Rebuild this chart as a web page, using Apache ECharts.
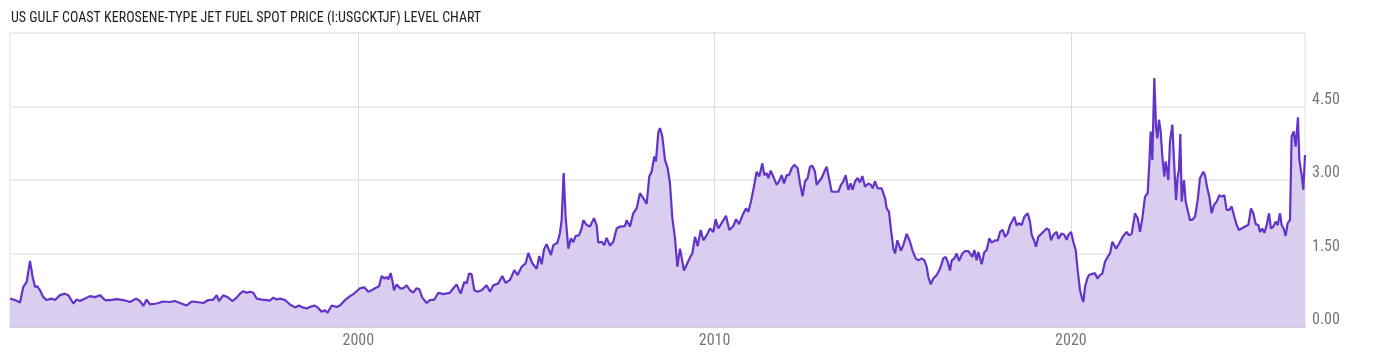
<!DOCTYPE html>
<html>
<head>
<meta charset="utf-8">
<script src="https://cdn.jsdelivr.net/npm/echarts@6/dist/echarts.min.js"></script>
<style>
html,body{margin:0;padding:0;background:#fff;}
#chart{width:1400px;height:357px;}
</style>
</head>
<body>
<div id="chart"></div>
<script>
const titleText = 'US GULF COAST KEROSENE-TYPE JET FUEL SPOT PRICE (I:USGCKTJF) LEVEL CHART';
const xTickYears = [2000, 2010, 2020];
const yTicks = [0, 1.5, 3, 4.5];

// decimal year of each reading
const years = [
1990.225,1990.365,1990.506,1990.599,1990.693,1990.786,1990.861,1990.927,1990.992,1991.067,1991.160,1991.254,1991.394,1991.488,1991.628,1991.768,1991.862,1992.002,1992.096,1992.189,1992.330,1992.470,1992.610,1992.751,1992.891,1993.031,1993.218,1993.406,1993.593,1993.761,1993.873,1993.967,1994.060,1994.154,1994.341,1994.528,1994.715,1994.855,1994.996,1995.183,1995.323,1995.464,1995.651,1995.791,1995.931,1996.025,1996.090,1996.212,
1996.259,1996.353,1996.465,1996.586,1996.680,1996.773,1996.867,1996.961,1997.054,1997.148,1997.288,1997.428,1997.522,1997.615,1997.709,1997.803,1997.943,1998.083,1998.223,1998.336,1998.429,1998.551,1998.644,1998.766,1998.860,1998.972,1999.065,1999.140,1999.252,1999.393,1999.486,1999.627,1999.767,1999.861,1999.954,2000.048,2000.169,2000.282,2000.375,2000.469,2000.581,2000.656,2000.730,2000.796,2000.843,2000.908,2000.964,2001.002,2001.077,2001.170,2001.264,2001.357,2001.451,2001.544,2001.638,2001.713,2001.797,2001.919,2002.012,2002.134,2002.246,2002.386,
2002.433,2002.573,2002.667,2002.760,2002.873,2002.976,2003.041,2003.107,2003.181,2003.256,2003.350,2003.462,2003.602,2003.696,2003.789,2003.930,2004.042,2004.136,2004.257,2004.379,2004.472,2004.585,2004.697,2004.772,2004.884,2005.006,2005.080,2005.146,2005.211,2005.286,2005.408,2005.473,2005.586,2005.660,2005.707,2005.763,2005.819,2005.894,2005.969,2006.035,2006.100,2006.194,2006.268,2006.315,2006.409,2006.502,2006.615,2006.689,2006.736,2006.830,2006.905,2006.970,2007.064,2007.157,2007.251,2007.344,2007.484,2007.531,2007.625,2007.718,2007.812,2007.905,2007.999,2008.093,2008.167,2008.233,2008.308,2008.354,2008.420,2008.467,2008.532,
2008.608,2008.683,2008.748,2008.814,2008.889,2008.954,2009.029,2009.141,2009.235,2009.310,2009.375,2009.450,2009.525,2009.609,2009.684,2009.777,2009.871,2009.964,2010.030,2010.105,2010.198,2010.320,2010.413,2010.526,2010.601,2010.685,2010.788,2010.881,2010.947,2011.021,2011.087,2011.180,2011.255,2011.340,2011.396,2011.461,2011.508,2011.574,2011.648,2011.742,2011.807,2011.882,2011.948,2012.022,2012.088,2012.163,2012.238,2012.331,2012.397,2012.471,2012.537,2012.612,2012.677,2012.743,2012.818,2012.864,2012.930,2013.005,2013.079,2013.145,2013.210,2013.285,2013.379,2013.472,2013.547,2013.613,2013.678,2013.753,2013.819,2013.875,2013.940,2014.015,2014.080,2014.146,2014.221,2014.314,2014.389,2014.436,2014.501,2014.576,2014.688,
2014.783,2014.830,2014.895,2014.951,2015.017,2015.064,2015.129,2015.185,2015.232,2015.297,2015.391,2015.485,2015.550,2015.644,2015.718,2015.812,2015.887,2015.952,2015.999,2016.065,2016.139,2016.233,2016.327,2016.420,2016.486,2016.542,2016.607,2016.654,2016.729,2016.794,2016.860,2016.953,2017.028,2017.122,2017.168,2017.234,2017.290,2017.355,2017.402,2017.496,2017.571,2017.636,2017.711,2017.776,2017.870,2017.945,2018.010,2018.085,2018.151,2018.225,2018.291,2018.366,2018.413,2018.478,2018.543,2018.618,2018.693,2018.787,2018.852,2018.899,2018.965,2019.021,2019.086,2019.180,2019.226,2019.320,2019.385,2019.442,2019.507,2019.601,2019.647,2019.741,2019.816,2019.881,2019.928,2020.003,2020.068,2020.134,2020.190,2020.255,2020.302,2020.349,2020.396,2020.461,2020.508,2020.583,2020.676,2020.742,2020.817,2020.882,
2020.957,2021.032,2021.097,2021.163,2021.219,2021.266,2021.350,2021.406,2021.471,2021.565,2021.631,2021.705,2021.799,2021.874,2021.939,2022.005,2022.080,2022.154,2022.201,2022.239,2022.285,2022.341,2022.388,2022.426,2022.472,2022.519,2022.566,2022.622,2022.660,2022.706,2022.734,2022.781,2022.847,2022.893,2022.950,2022.996,2023.034,2023.071,2023.109,2023.174,2023.221,2023.277,2023.342,2023.408,2023.483,2023.558,2023.623,2023.670,2023.717,2023.763,2023.829,2023.885,2023.950,2024.016,2024.091,2024.166,2024.231,2024.306,2024.371,2024.446,2024.512,2024.587,2024.652,2024.717,2024.792,2024.886,2024.979,2025.054,2025.120,2025.185,2025.260,2025.307,2025.372,2025.428,2025.494,2025.559,2025.615,2025.681,2025.746,2025.803,2025.868,2025.915,2025.971,2026.027,2026.083,2026.149,2026.195,2026.252,2026.308,2026.373,2026.411,2026.476,2026.523,2026.570
];

// spot price, USD per gallon
const prices = [
0.58,0.55,0.50,0.82,0.92,1.35,1.02,0.82,0.83,0.75,0.61,0.55,0.58,0.55,0.65,0.68,0.65,0.48,0.56,0.53,0.58,0.63,0.61,0.65,0.55,0.55,0.57,0.55,0.51,0.58,0.53,0.43,0.56,0.46,0.48,0.52,0.51,0.53,0.49,0.44,0.52,0.51,0.49,0.55,0.56,0.65,0.53,0.65,
0.63,0.60,0.53,0.60,0.68,0.73,0.70,0.72,0.70,0.58,0.56,0.55,0.54,0.60,0.56,0.58,0.55,0.46,0.40,0.44,0.40,0.38,0.41,0.44,0.40,0.31,0.34,0.29,0.44,0.41,0.44,0.55,0.63,0.67,0.73,0.79,0.81,0.72,0.75,0.79,0.83,1.04,0.99,1.02,0.97,1.10,0.92,0.75,0.87,0.79,0.79,0.85,0.75,0.70,0.79,0.77,0.60,0.49,0.55,0.56,0.70,0.67,
0.65,0.70,0.79,0.87,0.68,0.92,0.89,1.09,1.08,0.75,0.72,0.75,0.85,0.72,0.85,0.89,1.04,0.90,0.96,1.16,1.06,1.23,1.30,1.51,1.30,1.19,1.45,1.28,1.58,1.69,1.47,1.67,1.72,1.92,2.18,3.14,2.25,1.60,1.81,1.73,1.86,1.87,2.01,2.18,2.08,2.05,2.22,2.08,1.72,1.74,1.67,1.82,1.66,1.74,2.01,2.05,2.06,2.18,2.05,2.32,2.42,2.73,2.63,2.51,3.07,3.17,3.48,3.38,3.97,4.06,3.89,
3.41,3.24,2.93,2.22,1.81,1.23,1.60,1.15,1.30,1.42,1.50,1.84,1.65,1.98,1.77,1.87,2.01,1.94,2.20,2.01,2.12,2.27,1.98,2.06,2.20,2.10,2.29,2.42,2.35,2.56,2.80,3.17,3.07,3.34,3.10,3.14,3.04,3.19,3.07,2.90,2.97,3.10,2.93,3.10,3.10,3.24,3.31,3.24,2.93,2.67,2.97,3.04,3.27,3.29,3.17,2.90,2.97,3.04,3.17,3.27,3.04,2.76,2.76,2.76,2.90,2.97,3.10,2.80,2.93,2.80,2.97,3.04,2.95,3.08,2.86,2.93,2.90,2.83,2.97,2.83,2.83,
2.63,2.42,2.35,1.98,1.60,1.50,1.77,1.80,1.56,1.67,1.90,1.74,1.57,1.40,1.36,1.40,1.36,1.23,1.02,0.87,0.99,1.06,1.19,1.40,1.43,1.33,1.15,1.36,1.40,1.50,1.35,1.50,1.55,1.55,1.57,1.43,1.57,1.36,1.53,1.28,1.53,1.57,1.81,1.72,1.77,1.76,1.94,1.98,1.84,1.91,2.08,2.18,2.25,2.07,2.12,2.08,2.25,2.32,2.15,1.88,1.77,1.64,1.84,1.91,1.94,2.01,1.98,1.77,1.88,1.94,1.80,1.91,1.88,1.78,1.88,1.94,1.74,1.57,1.16,0.75,0.61,0.51,0.82,0.99,1.06,1.08,1.10,0.99,1.06,1.09,
1.33,1.43,1.50,1.74,1.77,1.60,1.70,1.74,1.86,1.94,1.87,1.90,2.32,2.22,1.94,2.22,2.66,2.73,3.34,3.99,3.41,5.08,4.09,3.85,4.23,3.99,3.48,3.07,3.38,3.17,3.00,3.79,4.13,3.41,2.59,3.07,3.21,3.94,2.56,3.00,2.56,2.52,2.18,2.19,2.25,2.59,3.04,3.10,3.17,3.10,2.83,2.66,2.32,2.49,2.56,2.69,2.66,2.69,2.39,2.39,2.46,2.25,2.08,1.98,2.01,2.05,2.08,2.42,2.32,2.10,2.08,1.94,2.01,1.92,2.08,2.32,2.01,2.05,2.15,2.08,2.32,2.08,2.01,1.86,2.12,2.18,3.89,3.99,3.68,4.28,3.41,3.10,2.80,3.51
];

const seriesData = years.map((y, i) => [y, prices[i]]);

const condensed = "'Roboto Condensed', 'Liberation Sans Narrow', 'DejaVu Sans Condensed', Roboto, sans-serif";

const chart = echarts.init(document.getElementById('chart'), null, {renderer: 'canvas'});
chart.setOption({
  animation: false,
  backgroundColor: '#fff',
  title: {
    text: titleText,
    left: 6,
    top: 6,
    textStyle: {fontSize: 14, fontWeight: 'normal', color: '#222', fontFamily: condensed}
  },
  grid: {
    left: 10, right: 95, top: 33, bottom: 30,
    show: true, borderColor: '#e2e2e2', borderWidth: 1, containLabel: false
  },
  xAxis: {
    type: 'value',
    min: years[0],
    max: years[years.length - 1],
    axisLine: {show: true, lineStyle: {color: '#cfcfcf', width: 2}},
    axisTick: {show: false, customValues: xTickYears},
    axisLabel: {
      customValues: xTickYears,
      color: '#777', fontSize: 16, fontFamily: condensed, margin: 6,
      formatter: v => String(Math.round(v))
    },
    splitLine: {show: true, lineStyle: {color: '#dcdcdc', width: 1}}
  },
  yAxis: {
    type: 'value',
    position: 'right',
    min: 0, max: 6, interval: 1.5,
    axisLine: {show: false},
    axisTick: {show: false},
    axisLabel: {
      color: '#777', fontSize: 16, fontFamily: condensed, margin: 7,
      verticalAlign: 'bottom', lineHeight: 14, showMaxLabel: false,
      formatter: v => (yTicks.indexOf(v) >= 0 ? v.toFixed(2) : '')
    },
    splitLine: {show: true, lineStyle: {color: '#ececec', width: 2}}
  },
  series: [{
    type: 'line',
    data: seriesData,
    showSymbol: false,
    smooth: false,
    lineStyle: {color: '#6433c8', width: 2.2},
    itemStyle: {color: '#6433c8'},
    areaStyle: {color: '#d9cdf0', opacity: 1}
  }]
});
</script>
</body>
</html>
